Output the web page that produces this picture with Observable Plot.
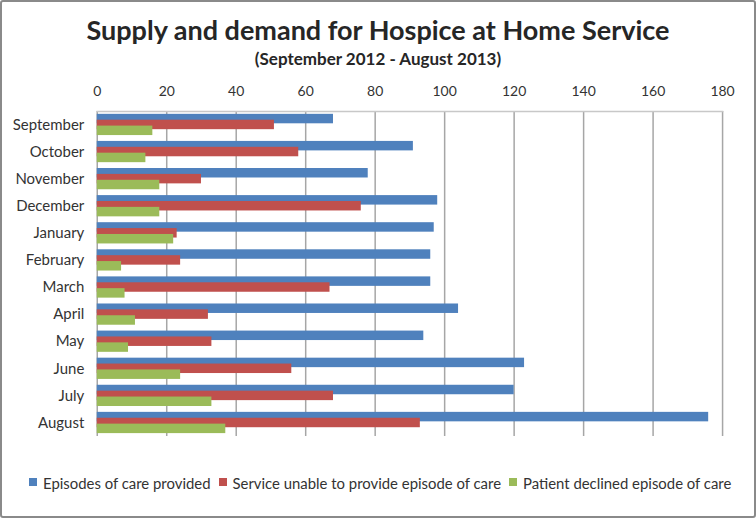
<!DOCTYPE html>
<html>
<head>
<meta charset="utf-8">
<script src="https://cdn.jsdelivr.net/npm/d3@7"></script>
<script src="https://cdn.jsdelivr.net/npm/@observablehq/plot@0.6"></script>
<style>
  html, body { margin: 0; padding: 0; background: #fff; }
  #wrap { position: relative; width: 756px; height: 518px; box-sizing: border-box; border: 2px solid #8a8a8a; border-radius: 3px; font-family: Lato, "Open Sans", sans-serif; color: #262626; overflow: hidden; }
  #title { position: absolute; left: -2px; width: 756px; top: 12px; text-align: center; font-weight: bold; font-size: 27px; line-height: 32px; }
  #subtitle { position: absolute; left: -2px; width: 756px; top: 47px; text-align: center; font-weight: bold; font-size: 17px; line-height: 20px; }
  #chart { position: absolute; left: -2px; top: 71px; }
  #legend { position: absolute; left: 27px; top: 472px; display: flex; gap: 0; font-size: 14.9px; line-height: 18px; color: #333; }
  .item { display: flex; align-items: center; margin-right: 8px; }
  .sw { width: 8px; height: 8px; margin-right: 6px; margin-top: -3px; }
</style>
</head>
<body>
<div id="wrap">
  <div id="title">Supply and demand for Hospice at Home Service</div>
  <div id="subtitle">(September 2012 - August 2013)</div>
  <div id="chart"></div>
  <div id="legend"></div>
</div>
<script>
const months = ["September","October","November","December","January","February","March","April","May","June","July","August"];
const provided = [68, 91, 78, 98, 97, 96, 96, 104, 94, 123, 120, 176];
const unable   = [51, 58, 30, 76, 23, 24, 67, 32, 33, 56, 68, 93];
const declined = [16, 14, 18, 18, 22, 7, 8, 11, 9, 24, 33, 37];
const seriesNames = ["Episodes of care provided", "Service unable to provide episode of care", "Patient declined episode of care"];
const colors = ["#4F81BD", "#C0504D", "#9BBB59"];
const xTicks = [0, 20, 40, 60, 80, 100, 120, 140, 160, 180];

const rows = months.map((m, i) => ({month: m, provided: provided[i], unable: unable[i], declined: declined[i]}));

const H = 375, mt = 38, mb = 11;
const bw = (H - mt - mb) / months.length;
const barH = 9.5, step = 5.9;
const top0 = (bw - (barH + 2 * step)) / 2;
const ins = k => ({insetTop: top0 + k * step, insetBottom: bw - (top0 + k * step + barH)});

const chart = Plot.plot({
  width: 756,
  height: H,
  marginTop: mt,
  marginBottom: mb,
  marginLeft: 97,
  marginRight: 32,
  style: {fontFamily: "Lato, 'Open Sans', sans-serif", fontSize: "14px", color: "#333", background: "transparent"},
  x: {domain: [0, 180], ticks: xTicks, axis: "top", label: null, tickSize: 0, tickPadding: 15},
  y: {domain: months, padding: 0, round: false, label: null, tickSize: 0, tickPadding: 13},
  marks: [
    Plot.ruleX(xTicks, {stroke: "#a6a6a6", strokeWidth: 1.5}),
    Plot.frame({anchor: "top", stroke: "#c8c8c8", strokeWidth: 1.5}),
    Plot.barX(rows, {x: "provided", y: "month", fill: colors[0], ...ins(0)}),
    Plot.barX(rows, {x: "unable", y: "month", fill: colors[1], ...ins(1)}),
    Plot.barX(rows, {x: "declined", y: "month", fill: colors[2], ...ins(2)})
  ]
});
chart.querySelectorAll("g[aria-label='y-axis tick label'] text, g[aria-label='y-axis'] text").forEach(t => t.setAttribute("font-size", "15"));
document.getElementById("chart").appendChild(chart);

const legend = document.getElementById("legend");
seriesNames.forEach((name, i) => {
  const it = document.createElement("div");
  it.className = "item";
  it.innerHTML = `<span class="sw" style="background:${colors[i]}"></span><span>${name}</span>`;
  legend.appendChild(it);
});
</script>
</body>
</html>
